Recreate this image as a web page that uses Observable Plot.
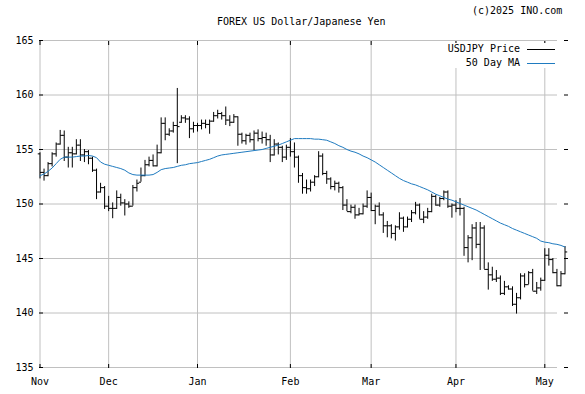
<!DOCTYPE html>
<html>
<head>
<meta charset="utf-8">
<script src="https://cdn.jsdelivr.net/npm/d3@7"></script>
<script src="https://cdn.jsdelivr.net/npm/@observablehq/plot@0.6"></script>
<style>
  body { margin: 0; background: #fff; }
  #wrap { position: relative; width: 585px; height: 394px; font-family: "DejaVu Sans Mono", monospace; font-size: 10px; color: #000; line-height: 12px; }
  #wrap svg { position: absolute; left: 0; top: 0; }
  .lbl { position: absolute; white-space: pre; }
  #legend { position: absolute; left: 441px; top: 43px; width: 120px; height: 25px; background: #fff; }
  .swatch { position: absolute; height: 1px; width: 28px; }
</style>
</head>
<body>
<div id="wrap"></div>
<script>
// Month ticks (trading-day index of first bar of each month)
const monthIdx = [0, 17, 39, 62, 82, 103, 125];
const monthLabels = ["Nov", "Dec", "Jan", "Feb", "Mar", "Apr", "May"];
const yTicks = [135, 140, 145, 150, 155, 160, 165];

// USDJPY daily OHLC (one bar per trading day)
const opens = [154.6,152.9,152.6,153.7,154.6,155.5,156.3,154.3,154.7,154.6,155.4,154.5,154.8,154.2,153.1,151.1,151.5,149.8,149.6,149.6,150.6,150.1,150.0,149.8,151.5,152.0,152.6,153.6,154.0,153.5,154.7,157.4,156.4,156.7,157.2,157.5,157.9,157.8,156.9,157.2,157.2,157.4,157.3,157.6,158.1,158.3,158.1,157.7,157.5,158.0,156.4,155.8,156.3,155.9,156.5,156.0,156.1,155.9,154.5,155.5,155.2,154.3,155.2,154.8,154.3,152.6,151.5,151.4,152.0,152.5,154.4,152.8,152.3,151.6,151.9,151.5,149.9,149.3,149.7,149.0,149.1,149.8,150.6,149.4,149.8,149.0,148.0,148.0,147.3,147.9,148.7,147.9,148.6,149.2,149.9,148.6,148.8,149.3,150.7,149.9,150.5,151.1,149.8,149.9,149.6,149.6,146.0,146.9,147.8,146.3,147.8,144.0,143.5,143.1,143.2,141.8,142.4,142.2,140.8,141.4,143.4,142.6,143.7,142.0,142.3,143.0,145.3,144.9,143.7,142.5,143.6];
const highs = [154.7,153.2,153.8,154.7,155.6,156.75,156.7,155.2,155.2,155.9,155.9,155.0,154.9,154.3,153.2,151.9,151.6,150.7,150.1,151.2,150.9,150.4,150.2,151.7,152.2,153.3,154.0,154.3,154.5,155.4,157.9,157.9,156.9,157.5,160.6,158.1,158.1,158.0,157.5,157.4,157.7,157.7,157.7,158.4,158.6,158.4,158.9,158.1,158.2,158.0,156.5,156.4,156.5,156.7,156.8,156.6,156.5,156.3,155.9,155.6,155.3,155.4,156.0,155.6,154.4,152.8,152.2,152.2,152.6,154.8,154.6,153.0,152.4,152.1,152.0,151.6,150.4,149.9,149.9,149.6,150.0,151.2,151.0,149.9,150.1,149.2,148.4,148.1,148.0,149.2,148.8,148.8,149.4,150.15,150.0,149.3,149.6,150.9,150.8,150.6,151.2,151.2,150.0,150.3,150.5,149.7,147.1,148.1,148.3,148.3,148.0,144.6,144.2,143.9,143.4,142.9,142.5,142.4,141.8,143.6,143.6,143.8,144.0,142.8,143.2,145.9,145.9,145.0,144.0,143.8,146.1];
const lows = [152.3,152.1,152.5,153.4,154.3,155.4,153.9,153.3,153.3,154.5,153.9,153.8,153.6,152.9,150.4,151.0,149.5,149.3,148.65,149.5,149.8,148.9,149.6,149.8,151.1,152.0,152.5,153.4,153.4,153.4,154.6,155.8,156.2,156.5,153.7,157.4,157.4,156.0,156.5,156.6,156.8,156.9,156.4,157.5,157.8,157.7,157.2,157.1,157.4,155.3,155.5,155.4,155.6,154.9,155.7,155.5,155.3,153.8,154.4,154.5,153.8,154.0,154.3,153.3,151.9,150.9,150.9,151.1,151.6,152.4,152.6,151.8,151.3,151.2,151.0,149.4,149.3,149.1,148.6,148.9,149.0,149.6,149.3,148.1,148.9,147.3,146.9,146.8,146.6,147.6,147.4,147.8,148.3,149.0,148.6,148.2,148.6,149.2,149.8,149.7,150.3,149.6,148.7,149.2,148.9,145.2,144.6,144.8,145.9,143.9,144.0,142.1,142.9,142.8,141.6,141.6,142.1,140.6,139.9,141.2,142.3,142.6,142.0,141.7,142.0,142.9,144.3,143.6,142.4,142.4,143.5];
const closes = [152.9,152.6,153.7,154.6,155.5,156.3,154.3,154.7,154.6,155.4,154.5,154.8,154.2,153.1,151.1,151.5,149.8,149.6,149.6,150.6,150.1,150.0,149.8,151.5,151.9,152.6,153.6,154.0,153.5,154.7,157.4,156.4,156.7,157.2,157.1,157.9,157.8,156.9,157.2,157.2,157.4,157.3,157.6,158.1,158.3,158.1,157.7,157.5,158.0,156.4,155.8,156.3,155.9,156.5,156.0,156.1,155.9,154.5,155.5,155.2,154.3,155.2,154.8,154.3,152.6,151.5,151.4,152.0,152.5,154.4,152.8,152.3,151.6,151.9,151.5,149.9,149.3,149.7,149.0,149.1,149.8,150.6,149.4,149.8,149.0,148.0,148.0,147.3,147.9,148.7,147.9,148.6,149.2,149.9,148.6,148.8,149.3,150.7,149.9,150.5,151.1,149.8,149.9,149.6,149.6,146.0,146.9,147.8,146.3,147.8,144.0,143.5,143.1,143.2,141.8,142.4,142.2,140.8,141.4,143.4,142.6,143.7,142.0,142.3,143.0,145.3,144.9,143.7,142.5,143.6,145.6];

// 50 Day MA at each bar
const ma50 = [152.6,152.75,153.0,153.3,153.7,154.1,154.3,154.3,154.3,154.35,154.4,154.4,154.45,154.4,154.25,153.85,153.65,153.55,153.45,153.35,153.25,153.1,152.85,152.7,152.65,152.65,152.65,152.65,152.7,152.9,153.15,153.25,153.3,153.35,153.45,153.55,153.6,153.7,153.75,153.8,153.9,154.0,154.1,154.25,154.4,154.5,154.55,154.6,154.65,154.7,154.75,154.8,154.85,154.9,154.95,155.0,155.1,155.2,155.3,155.4,155.55,155.7,155.85,156.0,156.0,156.0,156.0,156.0,155.95,155.95,155.9,155.85,155.7,155.55,155.35,155.2,155.0,154.85,154.75,154.6,154.4,154.25,154.05,153.85,153.6,153.35,153.1,152.85,152.6,152.35,152.15,152.0,151.85,151.75,151.6,151.45,151.3,151.1,150.9,150.75,150.6,150.45,150.35,150.2,150.05,149.9,149.75,149.6,149.45,149.25,149.05,148.85,148.65,148.45,148.25,148.1,147.95,147.75,147.6,147.45,147.3,147.15,147.0,146.85,146.6,146.5,146.45,146.35,146.3,146.2,146.05];

const bars = opens.map((o, i) => ({i, open: o, high: highs[i], low: lows[i], close: closes[i]}));
const maData = ma50.map((v, i) => ({i, v}));

const grey = "#c0c0c0";
const blue = "#1f7bc0";
const blank = () => "";

const chart = Plot.plot({
  width: 585,
  height: 394,
  marginLeft: 39,
  marginRight: 28,
  marginTop: 40,
  marginBottom: 27,
  style: {fontFamily: "DejaVu Sans Mono, monospace", fontSize: "10px", color: "#000", background: "#fff"},
  x: {type: "linear", domain: [0, 130], range: [39.5, 564.5], label: null},
  y: {domain: [135, 165], label: null},
  marks: [
    Plot.gridX(monthIdx, {stroke: grey, strokeOpacity: 1}),
    Plot.gridY(yTicks, {stroke: grey, strokeOpacity: 1}),
    Plot.axisX(monthIdx, {anchor: "top", tickSize: 4, dy: 4, tickFormat: blank, label: null}),
    Plot.axisX(monthIdx, {anchor: "bottom", tickSize: 4, dy: -3, tickFormat: blank, label: null}),
    Plot.axisX(monthIdx, {anchor: "bottom", tickSize: 0, tickPadding: 10, label: null, tickFormat: d => monthLabels[monthIdx.indexOf(d)]}),
    Plot.axisY(yTicks, {anchor: "left", tickSize: 4, dx: 4, tickFormat: blank, label: null}),
    Plot.axisY(yTicks, {anchor: "left", tickSize: 0, tickPadding: 6, label: null}),
    Plot.axisY(yTicks, {anchor: "right", tickSize: 4, dx: 6, tickFormat: blank, label: null}),
    Plot.ruleX(bars, {x: "i", y1: "low", y2: "high", stroke: "#000", strokeWidth: 1}),
    Plot.link(bars, {x1: d => d.i - 0.55, x2: "i", y1: "open", y2: "open", stroke: "#000", strokeWidth: 1}),
    Plot.link(bars, {x1: "i", x2: d => d.i + 0.55, y1: "close", y2: "close", stroke: "#000", strokeWidth: 1}),
    Plot.line(maData, {x: "i", y: "v", stroke: blue, strokeWidth: 1})
  ]
});

const wrap = document.getElementById("wrap");
wrap.appendChild(chart);

function label(text, left, top) {
  const d = document.createElement("div");
  d.className = "lbl";
  d.textContent = text;
  d.style.left = left + "px";
  d.style.top = top + "px";
  wrap.appendChild(d);
  return d;
}
label("(c)2025 INO.com", 472, 4.5);
label("FOREX US Dollar/Japanese Yen", 217, 15.5);

const legend = document.createElement("div");
legend.id = "legend";
wrap.appendChild(legend);
const legendItems = [["USDJPY Price", "#000"], ["50 Day MA", blue]];
legendItems.forEach(([name, color], k) => {
  const t = document.createElement("div");
  t.className = "lbl";
  t.textContent = name;
  t.style.right = (120 - 79) + "px";
  t.style.top = (k * 14) + "px";
  legend.appendChild(t);
  const s = document.createElement("div");
  s.className = "swatch";
  s.style.left = "86px";
  s.style.top = (6 + k * 14) + "px";
  s.style.background = color;
  legend.appendChild(s);
});
</script>
</body>
</html>
